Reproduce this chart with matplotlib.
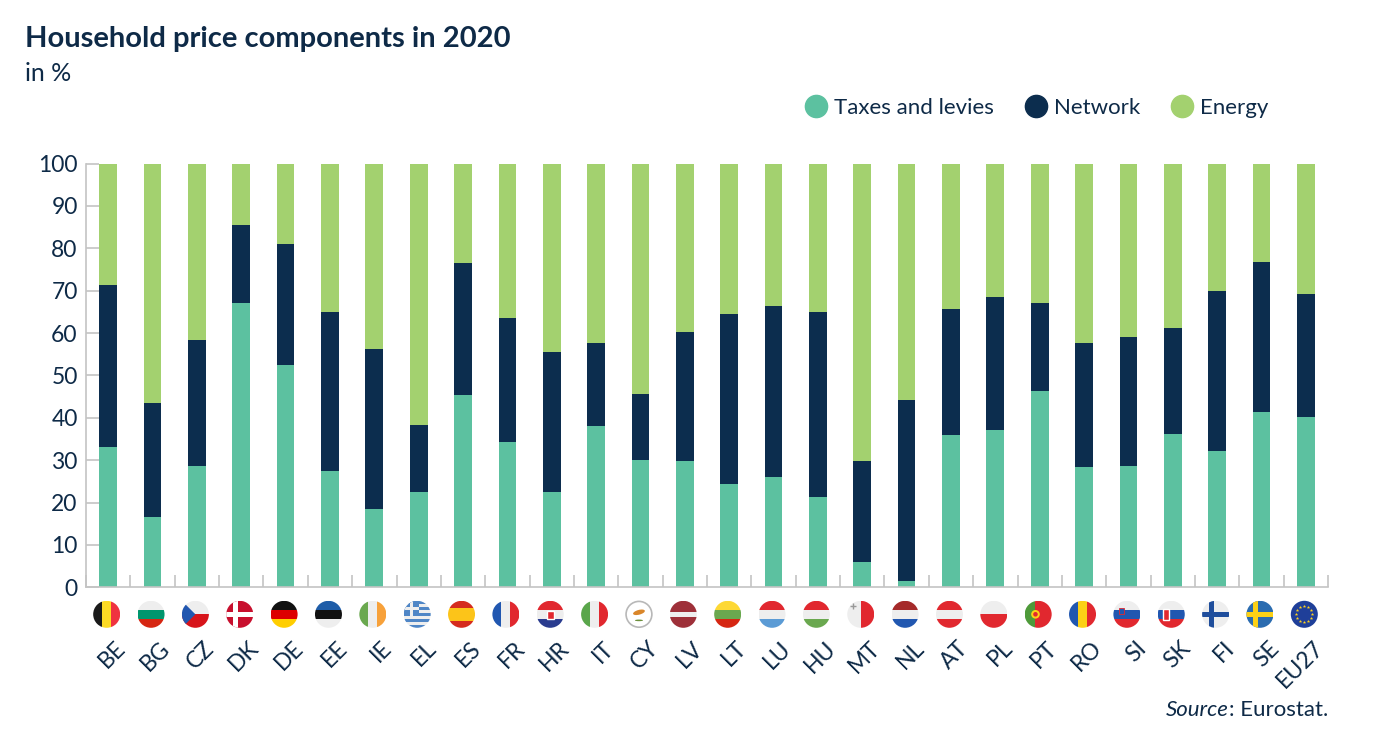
import matplotlib.pyplot as plt
import matplotlib.transforms as mtransforms
import numpy as np
from matplotlib.lines import Line2D
from matplotlib.patches import Circle, Ellipse, Polygon, Rectangle

plt.rcParams["font.family"] = ["Lato", "DejaVu Sans"]

COUNTRIES = ["BE", "BG", "CZ", "DK", "DE", "EE", "IE", "EL", "ES", "FR",
             "HR", "IT", "CY", "LV", "LT", "LU", "HU", "MT", "NL", "AT",
             "PL", "PT", "RO", "SI", "SK", "FI", "SE", "EU27"]
TAXES = [33.2, 16.7, 28.6, 67.2, 52.5, 27.4, 18.4, 22.6, 45.3, 34.3,
         22.4, 38.1, 30.1, 29.8, 24.3, 26.1, 21.3, 5.9, 1.5, 36.0,
         37.2, 46.4, 28.3, 28.6, 36.1, 32.2, 41.4, 40.3]
NETWORK = [38.2, 26.7, 29.7, 18.4, 28.6, 37.6, 37.9, 15.7, 31.2, 29.2,
           33.2, 19.6, 15.4, 30.4, 40.3, 40.2, 43.6, 23.9, 42.6, 29.7,
           31.3, 20.6, 29.4, 30.4, 25.0, 37.6, 35.4, 29.0]
ENERGY = [28.6, 56.6, 41.7, 14.4, 18.9, 35.0, 43.7, 61.7, 23.5, 36.5,
          44.4, 42.3, 54.5, 39.8, 35.4, 33.7, 35.1, 70.2, 55.9, 34.3,
          31.5, 33.0, 42.3, 41.0, 38.9, 30.2, 23.2, 30.7]
SERIES = ["Taxes and levies", "Network", "Energy"]

NAVY = "#0e2a47"
COLORS = ["#5cc1a0", "#0c2d4e", "#a3d16f"]
GREY = "#c4c4c4"
WH = "#eeeeee"

# simplified flag looks: (kind, colours, weights)
FLAGS = {
    "BE": ("v", ["#1a1a1a", "#fdda24", "#ef3340"]),
    "BG": ("h", [WH, "#00966e", "#d62612"]),
    "CZ": ("h", [WH, "#d7141a"]),
    "DK": ("cross", ["#c8102e", "#ffffff"]),
    "DE": ("h", ["#111111", "#dd0000", "#ffce00"]),
    "EE": ("h", ["#1f5da8", "#111111", WH]),
    "IE": ("v", ["#6aa84f", WH, "#f7a13a"]),
    "EL": ("greece", ["#4f86c6", WH]),
    "ES": ("h", ["#d52b1e", "#fcc419", "#d52b1e"], [1, 2, 1]),
    "FR": ("v", ["#2157b0", WH, "#e1282f"]),
    "HR": ("h", ["#e1282f", WH, "#2a3c8f"]),
    "IT": ("v", ["#5aa64b", WH, "#e1282f"]),
    "CY": ("cyprus", ["#ffffff", "#d9862a"]),
    "LV": ("h", ["#9e3039", WH, "#9e3039"], [2, 1, 2]),
    "LT": ("h", ["#fdd835", "#6aa84f", "#d62612"]),
    "LU": ("h", ["#e1282f", WH, "#5b9bd5"]),
    "HU": ("h", ["#e1282f", WH, "#6aa84f"]),
    "MT": ("v", [WH, "#e1282f"]),
    "NL": ("h", ["#a52a2a", WH, "#2157b0"]),
    "AT": ("h", ["#e1282f", WH, "#e1282f"]),
    "PL": ("h", [WH, "#e1282f"]),
    "PT": ("v", ["#4e9a3a", "#e1282f"], [2, 3]),
    "RO": ("v", ["#2157b0", "#fcd116", "#e1282f"]),
    "SI": ("h", [WH, "#2157b0", "#e1282f"]),
    "SK": ("h", [WH, "#2157b0", "#e1282f"]),
    "FI": ("cross", [WH, "#1f4e9c"]),
    "SE": ("cross", ["#2b6cb0", "#fcd116"]),
    "EU27": ("eu", ["#1f3f99", "#ffd21f"]),
}

W, H = 1399, 748
fig = plt.figure(figsize=(W / 100, H / 100), dpi=100)
ax = fig.add_axes([86 / W, 1 - 587.3 / H, (1328 - 86) / W, (587.3 - 163.5) / H])

x = np.arange(len(COUNTRIES))
taxes = np.array(TAXES)
network = np.array(NETWORK)
energy = np.array(ENERGY)
ax.bar(x, taxes, width=0.4, color=COLORS[0], zorder=2)
ax.bar(x, network, width=0.4, bottom=taxes, color=COLORS[1], zorder=2)
ax.bar(x, energy, width=0.4, bottom=taxes + network, color=COLORS[2], zorder=2)

ax.set_xlim(-0.5, len(COUNTRIES) - 0.5)
ax.set_ylim(0, 100)
ax.set_yticks(np.arange(0, 101, 10))
for s in ["top", "right"]:
    ax.spines[s].set_visible(False)
for s in ["left", "bottom"]:
    ax.spines[s].set_color(GREY)
    ax.spines[s].set_linewidth(1.2)
ax.tick_params(axis="y", direction="in", length=9.5, width=1.2, color=GREY,
               labelcolor=NAVY, labelsize=16.5, pad=6)
ax.set_xticks(x)
ax.set_xticklabels(COUNTRIES, rotation=45, ha="right", rotation_mode="anchor")
ax.tick_params(axis="x", which="major", length=0, labelcolor=NAVY,
               labelsize=16.5, pad=36)
ax.set_xticks(np.arange(-0.5, len(COUNTRIES), 1), minor=True)
ax.tick_params(axis="x", which="minor", direction="in", length=8.6,
               width=1.2, color=GREY)
shift = mtransforms.ScaledTranslation(5 / 72, 0, fig.dpi_scale_trans)
for lab in ax.get_xticklabels():
    lab.set_transform(lab.get_transform() + shift)

# flags under the axis
fax = fig.add_axes([0, 0, 1, 1], zorder=5)
fax.set_xlim(0, W)
fax.set_ylim(0, H)
fax.axis("off")
r = 13.5


def add(p, clip):
    fax.add_patch(p)
    p.set_clip_path(clip)


def draw_flag(cx, cy, spec):
    kind, cols = spec[0], spec[1]
    clip = Circle((cx, cy), r, transform=fax.transData)
    if kind in ("h", "v"):
        w = np.array(spec[2] if len(spec) > 2 else [1] * len(cols), float)
        edges = np.concatenate([[0], np.cumsum(w) / w.sum()]) * 2 * r
        for c, a, b in zip(cols, edges[:-1], edges[1:]):
            if kind == "h":
                p = Rectangle((cx - r, cy + r - b), 2 * r, b - a, color=c, lw=0)
            else:
                p = Rectangle((cx - r + a, cy - r), b - a, 2 * r, color=c, lw=0)
            add(p, clip)
    elif kind == "cross":
        add(Rectangle((cx - r, cy - r), 2 * r, 2 * r, color=cols[0], lw=0), clip)
        add(Rectangle((cx - 0.5 * r, cy - r), 0.36 * r, 2 * r, color=cols[1], lw=0), clip)
        add(Rectangle((cx - r, cy - 0.18 * r), 2 * r, 0.36 * r, color=cols[1], lw=0), clip)
    elif kind == "greece":
        for k in range(9):
            add(Rectangle((cx - r, cy + r - (k + 1) * 2 * r / 9), 2 * r, 2 * r / 9,
                          color=cols[k % 2], lw=0), clip)
        s = 10 * r / 9
        add(Rectangle((cx - r, cy + r - s), s, s, color=cols[0], lw=0), clip)
        add(Rectangle((cx - r + 0.4 * s, cy + r - s), 0.2 * s, s, color=cols[1], lw=0), clip)
        add(Rectangle((cx - r, cy + r - 0.6 * s), s, 0.2 * s, color=cols[1], lw=0), clip)
    elif kind == "cyprus":
        fax.add_patch(Circle((cx, cy), r - 0.6, facecolor=cols[0], edgecolor="#b8b8b8", lw=1.2))
        fax.add_patch(Ellipse((cx, cy + 2), 0.9 * r, 0.35 * r, angle=15, color=cols[1], lw=0))
        fax.add_patch(Ellipse((cx, cy - 0.45 * r), 0.6 * r, 0.12 * r, color="#6b8e3a", lw=0))
    elif kind == "eu":
        fax.add_patch(Circle((cx, cy), r, color=cols[0], lw=0))
        ang = np.linspace(0, 2 * np.pi, 13)[:-1]
        fax.plot(cx + 0.6 * r * np.cos(ang), cy + 0.6 * r * np.sin(ang), "*",
                 color=cols[1], markersize=2.6, markeredgewidth=0)


for i, c in enumerate(COUNTRIES):
    px, py = ax.transData.transform((i, 0))
    cx, cy = px - 1.5, py - 27
    draw_flag(cx, cy, FLAGS[c])
    if c == "CZ":
        fax.add_patch(Polygon([(cx - r, cy + r), (cx - r, cy - r), (cx, cy)],
                              color="#2157b0", lw=0, clip_path=Circle((cx, cy), r, transform=fax.transData)))
    elif c == "PT":
        fax.add_patch(Circle((cx - 0.2 * r, cy), 0.32 * r, color="#fcd116", lw=0))
        fax.add_patch(Circle((cx - 0.2 * r, cy), 0.17 * r, color="#e1282f", lw=0))
    elif c == "HR":
        fax.add_patch(Rectangle((cx - 0.25 * r, cy - 0.35 * r), 0.5 * r, 0.6 * r,
                                facecolor="#e1282f", edgecolor="white", lw=1))
    elif c == "SK":
        fax.add_patch(Rectangle((cx - 0.6 * r, cy - 0.4 * r), 0.45 * r, 0.8 * r,
                                facecolor="#e1282f", edgecolor="white", lw=1))
    elif c == "SI":
        fax.add_patch(Rectangle((cx - 0.55 * r, cy + 0.05 * r), 0.35 * r, 0.45 * r,
                                facecolor="#2157b0", edgecolor="#e1282f", lw=0.6))
    elif c == "MT":
        fax.plot(cx - 0.55 * r, cy + 0.6 * r, "+", color="#999999", markersize=4)

# title, subtitle
fig.text(25 / W, 1 - 47 / H, "Household price components in 2020", fontsize=21,
         fontweight="bold", color=NAVY, va="baseline")
fig.text(25 / W, 1 - 81 / H, "in %", fontsize=18, color=NAVY, va="baseline")

# legend
handles = [Line2D([], [], marker="o", linestyle="none", markersize=16,
                  markerfacecolor=col, markeredgecolor=col) for col in COLORS]
fig.legend(handles, SERIES, loc="center left", bbox_to_anchor=(805 / W, 1 - 107.7 / H),
           ncol=3, frameon=False, handlelength=1.0, handletextpad=0.3,
           columnspacing=1.4, borderaxespad=0, borderpad=0, fontsize=16,
           labelcolor=NAVY)

# source note, italic "Source"
renderer = fig.canvas.get_renderer()
t = fig.text(1328 / W, 1 - 716 / H, ": Eurostat.", fontsize=16, color=NAVY,
             ha="right", va="baseline")
bb = t.get_window_extent(renderer)
fig.text(bb.x0 / W, 1 - 716 / H, "Source", fontsize=16, color=NAVY,
         style="italic", ha="right", va="baseline")

fig.savefig("out.png", dpi=100, facecolor="white")
